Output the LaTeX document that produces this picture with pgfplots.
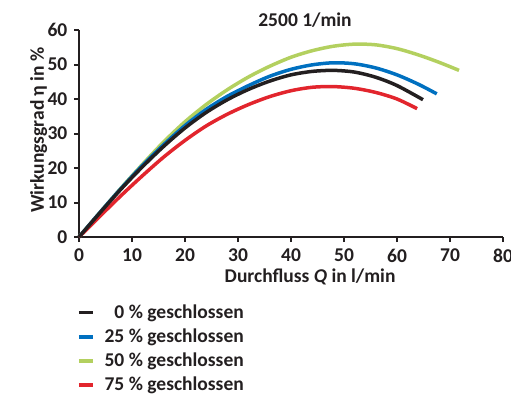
\documentclass[border=0pt]{standalone}
\usepackage{fontspec}
\setmainfont{Carlito}
\usepackage{pgfplots}
\pgfplotsset{compat=1.18}
\definecolor{txt}{HTML}{231F20}
\definecolor{cblack}{HTML}{231F20}
\definecolor{cblue}{HTML}{0070C0}
\definecolor{cgreen}{HTML}{B3D05F}
\definecolor{cred}{HTML}{E2252D}
\begin{document}
\fontsize{19.5bp}{23bp}\selectfont\bfseries
\begin{tikzpicture}[x=1bp,y=1bp]
\useasboundingbox (0,0) rectangle (511,397);
\begin{axis}[
  at={(79bp,160bp)}, anchor=south west,
  scale only axis, width=424bp, height=207bp,
  xmin=0, xmax=80, ymin=0, ymax=60,
  axis x line*=bottom, axis y line*=left,
  axis line style={-, line width=2.2bp, color=txt},
  xtick={0,10,...,80}, ytick={0,10,...,60},
  tick align=outside, major tick length=5bp,
  every tick/.style={line width=2bp, color=txt},
  /pgf/number format/assume math mode=true,
  tick label style={color=txt, font=\fontsize{19.5bp}{23bp}\selectfont\bfseries},
  title={2500 1/min},
  title style={at={(rel axis cs:0.533,1.018)}, anchor=center, color=txt, font=\fontsize{19.5bp}{23bp}\selectfont\bfseries},
  xlabel={Durchfluss {\bfseries\itshape Q} in l/min},
  xlabel style={at={(rel axis cs:0.545,-0.194)}, anchor=center, color=txt, font=\fontsize{19.5bp}{23bp}\selectfont\bfseries},
  ylabel={Wirkungsgrad η in \%},
  ylabel style={at={(rel axis cs:-0.095,0.517)}, anchor=center, rotate=0, color=txt, font=\fontsize{19.5bp}{23bp}\selectfont\bfseries},
  legend cell align=right,
  legend style={at={(rel axis cs:-0.012,-0.310)}, anchor=north west, draw=none, fill=none,
    font=\fontsize{19.5bp}{23bp}\selectfont\bfseries, text=txt,
    row sep=5.5bp, nodes={inner sep=1bp},
    /tikz/every odd column/.append style={column sep=9bp}},
  legend image code/.code={\draw[line width=3.5bp] (0bp,0bp) -- (14bp,0bp);},
  clip=false,
]
\addplot[cgreen, line width=3.5bp, smooth, forget plot] coordinates {
(0,0) (4,7.2) (8,14.3) (12,21.1) (16,27.6) (20,33.4) (24,38.4) (28,42.7) (32,46.4) (36,49.5) (40,52.1) (44,54.0) (48,55.3) (52,55.9) (56,55.7) (60,54.6) (64,52.8) (68,50.6) (71.7,48.3)};
\addplot[cblue, line width=3.5bp, smooth, forget plot] coordinates {
(0,0) (4,7.2) (8,14.2) (12,20.8) (16,26.8) (20,32.3) (24,37.0) (28,40.8) (32,43.9) (36,46.6) (40,48.6) (44,49.9) (48,50.5) (52,50.2) (56,49.0) (60,47.0) (64,44.3) (67.5,41.5)};
\addplot[cred, line width=3.5bp, smooth, forget plot] coordinates {
(0,0) (4,6.1) (8,12.1) (12,17.8) (16,23.2) (20,28.0) (24,32.2) (28,35.6) (32,38.4) (36,40.7) (40,42.4) (44,43.4) (48,43.6) (52,43.1) (56,41.9) (60,40.0) (63.8,37.2)};
\addplot[cblack, line width=3.5bp, smooth, forget plot] coordinates {
(0,0) (4,7.1) (8,14.0) (12,20.4) (16,26.3) (20,31.6) (24,36.1) (28,39.8) (32,42.8) (36,45.2) (40,47.0) (44,48.0) (48,48.3) (52,47.8) (56,46.3) (60,43.9) (64.9,39.8)};
\addlegendimage{cblack}
\addlegendentry{0 \% geschlossen}
\addlegendimage{cblue}
\addlegendentry{25 \% geschlossen}
\addlegendimage{cgreen}
\addlegendentry{50 \% geschlossen}
\addlegendimage{cred}
\addlegendentry{75 \% geschlossen}
\end{axis}
\end{tikzpicture}
\end{document}
